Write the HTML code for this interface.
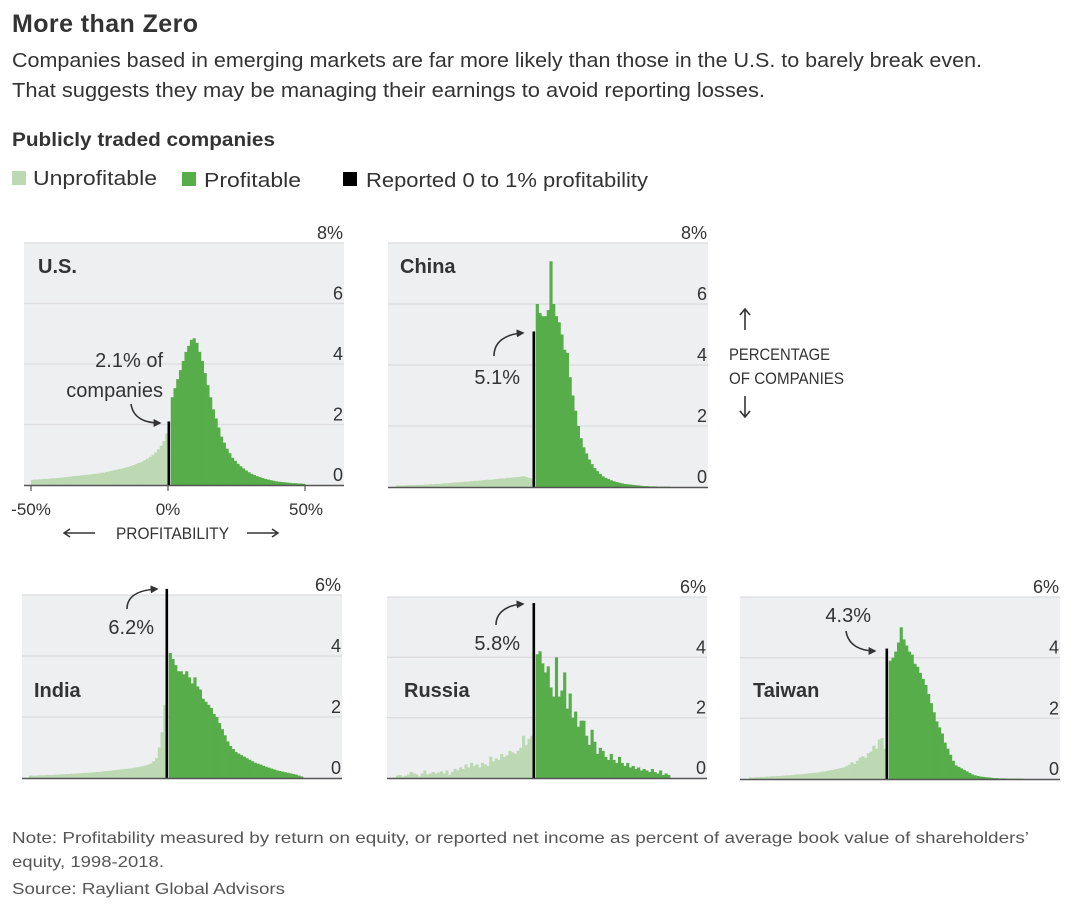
<!DOCTYPE html>
<html><head><meta charset="utf-8"><style>
body{margin:0;background:#fff;}
svg{display:block;font-family:"Liberation Sans",sans-serif;}
</style></head><body>
<svg id="chart" width="1072" height="908" viewBox="0 0 1072 908">
<text x="12" y="32" font-size="25" font-weight="bold" fill="#333" textLength="186">More than Zero</text>
<text x="12" y="67" font-size="20" fill="#333" textLength="970" lengthAdjust="spacingAndGlyphs">Companies based in emerging markets are far more likely than those in the U.S. to barely break even.</text>
<text x="12" y="97" font-size="20" fill="#333" textLength="753" lengthAdjust="spacingAndGlyphs">That suggests they may be managing their earnings to avoid reporting losses.</text>
<text x="12" y="146" font-size="19" font-weight="bold" fill="#333" textLength="263" lengthAdjust="spacingAndGlyphs">Publicly traded companies</text>
<g>
<rect x="12" y="171" width="14" height="14" fill="#bcd9b3"/>
<text x="33" y="185" font-size="20" fill="#333" textLength="124" lengthAdjust="spacingAndGlyphs">Unprofitable</text>
<rect x="182" y="172" width="14" height="14" fill="#57ad4a"/>
<text x="204" y="187" font-size="20" fill="#333" textLength="97" lengthAdjust="spacingAndGlyphs">Profitable</text>
<rect x="343" y="172" width="14" height="14" fill="#000"/>
<text x="366" y="187" font-size="20" fill="#333" textLength="282" lengthAdjust="spacingAndGlyphs">Reported 0 to 1% profitability</text>
</g>
<g id="panels"></g>
<g fill="#333">
<path d="M745,330 L745,310 M740,315 L745,309 L750,315" stroke="#333" stroke-width="1.6" fill="none"/>
<text x="729" y="360" font-size="17" textLength="101" lengthAdjust="spacingAndGlyphs">PERCENTAGE</text>
<text x="729" y="384" font-size="17" textLength="115" lengthAdjust="spacingAndGlyphs">OF COMPANIES</text>
<path d="M745,396 L745,416 M740,411 L745,417 L750,411" stroke="#333" stroke-width="1.6" fill="none"/>
</g>
<g fill="#333" font-size="17">
<text x="31" y="515" text-anchor="middle">-50%</text>
<text x="168" y="515" text-anchor="middle">0%</text>
<text x="306" y="515" text-anchor="middle">50%</text>
<path d="M65,533 L95,533 M70,529 L64,533 L70,537" stroke="#333" stroke-width="1.5" fill="none"/>
<text x="116" y="539" textLength="113" lengthAdjust="spacingAndGlyphs">PROFITABILITY</text>
<path d="M247,533 L277,533 M272,529 L278,533 L272,537" stroke="#333" stroke-width="1.5" fill="none"/>
</g>
<g fill="#555" font-size="16">
<text x="12" y="843" textLength="1017" lengthAdjust="spacingAndGlyphs">Note: Profitability measured by return on equity, or reported net income as percent of average book value of shareholders’</text>
<text x="12" y="867" textLength="152" lengthAdjust="spacingAndGlyphs">equity, 1998-2018.</text>
<text x="12" y="894" textLength="273" lengthAdjust="spacingAndGlyphs">Source: Rayliant Global Advisors</text>
</g>
</svg>
<script>
const bins = []; for (let b = -50; b < 50; b++) bins.push(b);
const usValues = [0.17,0.18,0.18,0.19,0.2,0.2,0.21,0.22,0.22,0.23, 0.24,0.25,0.26,0.27,0.28,0.29,0.3,0.31,0.32,0.33, 0.34,0.35,0.36,0.37,0.38,0.4,0.41,0.43,0.45,0.47, 0.49,0.51,0.53,0.55,0.58,0.6,0.63,0.66,0.7,0.73, 0.77,0.82,0.87,0.93,1.0,1.08,1.18,1.3,1.45,1.7, 2.1, 2.9,3.2,3.5,3.8,4.1,4.4,4.6,4.8,4.85, 4.7,4.4,4.1,3.7,3.3,2.9,2.5,2.2,1.9,1.6, 1.4,1.2,1.05,0.9,0.8,0.7,0.62,0.55,0.48,0.42, 0.37,0.33,0.29,0.26,0.23,0.2,0.18,0.16,0.14,0.12, 0.11,0.1,0.09,0.08,0.07,0.06,0.06,0.05,0.05,0.04];
const chinaValues = [0.05,0.05,0.05,0.05,0.06,0.06,0.06,0.07,0.07,0.07, 0.08,0.08,0.09,0.09,0.1,0.1,0.11,0.12,0.12,0.13, 0.14,0.15,0.15,0.16,0.17,0.18,0.18,0.19,0.2,0.2, 0.21,0.22,0.23,0.24,0.24,0.25,0.26,0.27,0.28,0.28, 0.3,0.3,0.31,0.32,0.33,0.34,0.35,0.33,0.3,0.28, 5.1, 6.0,5.7,5.6,5.6,5.8,7.4,6.0,5.6,5.4,5.0, 4.5,4.4,3.6,3.0,2.5,2.0,1.6,1.3,1.1,0.9, 0.75,0.62,0.52,0.43,0.35,0.3,0.26,0.22,0.19,0.16, 0.14,0.12,0.1,0.09,0.08,0.07,0.06,0.05,0.04,0.03, 0.03,0.02,0.02,0.02,0.01,0.01,0.01,0.01,0.01];
const indiaValues = [0.08,0.08,0.08,0.09,0.09,0.09,0.1,0.1,0.1,0.11, 0.11,0.12,0.12,0.13,0.13,0.14,0.14,0.15,0.15,0.16, 0.17,0.17,0.18,0.19,0.2,0.2,0.21,0.22,0.23,0.24, 0.25,0.26,0.27,0.28,0.29,0.3,0.31,0.32,0.34,0.35, 0.37,0.39,0.41,0.44,0.48,0.55,0.65,1.0,1.5,2.4, 6.2, 4.1,3.9,3.7,3.5,3.5,3.4,3.5,3.3,3.1,3.3, 3.0,2.9,2.6,2.5,2.4,2.3,2.1,2.0,1.8,1.6, 1.4,1.2,1.05,0.95,0.85,0.8,0.75,0.7,0.65,0.6, 0.55,0.5,0.47,0.44,0.4,0.37,0.34,0.31,0.28,0.25, 0.23,0.21,0.19,0.17,0.15,0.13,0.11,0.08,0.05];
const russiaValues = [0.08,0.1,0.05,0.08,0.12,0.2,0.15,0.12,0.05,0.15, 0.25,0.12,0.15,0.2,0.15,0.18,0.22,0.15,0.25,0.1, 0.2,0.3,0.25,0.35,0.3,0.45,0.35,0.5,0.4,0.45, 0.35,0.5,0.45,0.4,0.7,0.55,0.65,0.6,0.8,0.7, 0.75,0.9,0.85,0.8,0.9,1.0,1.4,1.1,1.3,1.4, 5.8, 4.1,4.2,3.8,3.5,3.7,3.0,2.7,4.0,2.7,2.9, 3.5,2.3,2.8,2.0,2.2,1.7,1.9,1.9,1.4,1.1, 1.6,1.2,0.8,1.0,0.9,0.7,0.6,0.8,0.6,0.5, 0.7,0.5,0.4,0.5,0.35,0.4,0.3,0.35,0.25,0.3, 0.25,0.2,0.3,0.2,0.15,0.25,0.1,0.15,0.1];
const taiwanValues = [0.05,0.05,0.06,0.06,0.07,0.07,0.08,0.08,0.09,0.09, 0.1,0.1,0.11,0.12,0.12,0.13,0.14,0.15,0.15,0.16, 0.17,0.18,0.19,0.2,0.21,0.22,0.24,0.25,0.27,0.28, 0.3,0.32,0.34,0.36,0.38,0.42,0.47,0.55,0.5,0.6, 0.7,0.75,0.7,0.85,0.9,1.1,1.0,1.3,1.35,1.0, 4.3, 3.9,4.0,4.2,4.5,5.0,4.6,4.4,4.2,4.1,3.8, 3.7,3.5,3.3,3.1,2.8,2.5,2.2,1.9,1.7,1.5, 1.2,1.0,0.8,0.6,0.45,0.4,0.35,0.3,0.25,0.2, 0.15,0.12,0.1,0.08,0.07,0.06,0.05,0.04,0.03,0.03, 0.02,0.02,0.02,0.01,0.01,0.01,0.01,0.01,0.01];
const ticksTop = [0, 2, 4, 6, 8];
const ticksBottom = [0, 2, 4, 6];
const countryNames = ["U.S.", "China", "India", "Russia", "Taiwan"];
const annotationLabels = [["2.1% of","companies"], ["5.1%"], ["6.2%"], ["5.8%"], ["4.3%"]];

const NS = "http://www.w3.org/2000/svg";
const root = document.getElementById('panels');
function mk(tag, attrs, parent) { const e = document.createElementNS(NS, tag); for (const k in attrs) e.setAttribute(k, attrs[k]); (parent || root).appendChild(e); return e; }

const panels = [
 {key:'us', vals:usValues, ticks:ticksTop, l:24, r:344, top:243, base:485, zx:168, lx:38, ly:273, ax:[163,367,30], arrow:"M131,404 C133,418 145,423 160,423"},
 {key:'china', vals:chinaValues, ticks:ticksTop, l:388, r:708, top:243, base:487, zx:533, lx:400, ly:273, ax:[520,384,0], arrow:"M494,356 C494,342 505,334 523,333"},
 {key:'india', vals:indiaValues, ticks:ticksBottom, l:22, r:342, top:595, base:778, zx:166, lx:34, ly:697, ax:[154,634,0], arrow:"M127,609 C127,596 138,590 157,589"},
 {key:'russia', vals:russiaValues, ticks:ticksBottom, l:387, r:707, top:597, base:778, zx:533, lx:404, ly:697, ax:[520,650,0], arrow:"M496,625 C496,613 506,605 523,604"},
 {key:'taiwan', vals:taiwanValues, ticks:ticksBottom, l:740, r:1060, top:597, base:779, zx:886, lx:753, ly:697, ax:[871,622,0], arrow:"M846,631 C848,645 860,651 875,651"}
];
const binW = 2.74;
mk('defs', {}).innerHTML = '<marker id="ah" viewBox="0 0 10 10" refX="8" refY="5" markerWidth="5" markerHeight="5" orient="auto"><path d="M0,0 L10,5 L0,10 z" fill="#333"/></marker>';

panels.forEach((p, i) => {
  const g = mk('g', {});
  
  
  const maxV = p.ticks[p.ticks.length - 1];
  const yS = v => p.base - v * (p.base - p.top) / maxV;
  const xS = b => p.zx + b * binW;
  const bg = mk('rect', {x:p.l, y:p.top, width:p.r - p.l, height:p.base - p.top, fill:'#eeeff1'}, g);
  
  
  p.ticks.forEach(t => {
    const y = yS(t);
    if (t > 0) {
      const gl = mk('line', {x1:p.l, x2:p.r, y1:y, y2:y, stroke:'#dcdcdf', 'stroke-width':1.3}, g);
      
      
    }
    const tl = mk('text', {x:p.r - 1, y:y - 4, 'text-anchor':'end', 'font-size':18, fill:'#333'}, g);
    
    
    tl.textContent = (t === maxV) ? t + '%' : String(t);
  });
  bins.forEach((b, j) => {
    const v = p.vals[j];
    if (v === undefined) return;
    if (b === 0) return;
    const r = mk('rect', {x:xS(b), y:yS(v), width:binW + 0.4, height:p.base - yS(v), fill: b < 0 ? '#bcd9b3' : '#57ad4a'}, g);
    
    
  });
  const v0 = p.vals[bins.indexOf(0)];
  const blk = mk('rect', {x:xS(0) - 0.5, y:yS(v0), width:2.6, height:p.base - yS(v0), fill:'#000'}, g);
  
  
  const ax = mk('line', {x1:p.l, x2:p.r, y1:p.base + 0.5, y2:p.base + 0.5, stroke:'#555', 'stroke-width':1.5}, g);
  
  
  if (p.key === 'us') {
    [-50, 0, 50].forEach(b => {
      const tk = mk('line', {x1:xS(b), x2:xS(b), y1:p.base, y2:p.base + 6, stroke:'#555', 'stroke-width':1.2}, g);
      
      
    });
  }
  const lab = mk('text', {x:p.lx, y:p.ly, 'font-size':20, 'font-weight':'bold', fill:'#333'}, g);
  
  
  lab.textContent = countryNames[i];
  annotationLabels[i].forEach((s, k) => {
    const at = mk('text', {x:p.ax[0], y:p.ax[1] + k * p.ax[2], 'text-anchor':'end', 'font-size':20, fill:'#333'}, g);
    
    
    at.textContent = s;
  });
  const ar = mk('path', {d:p.arrow, fill:'none', stroke:'#333', 'stroke-width':1.6, 'marker-end':'url(#ah)'}, g);
  
  
});
</script>
</body></html>
